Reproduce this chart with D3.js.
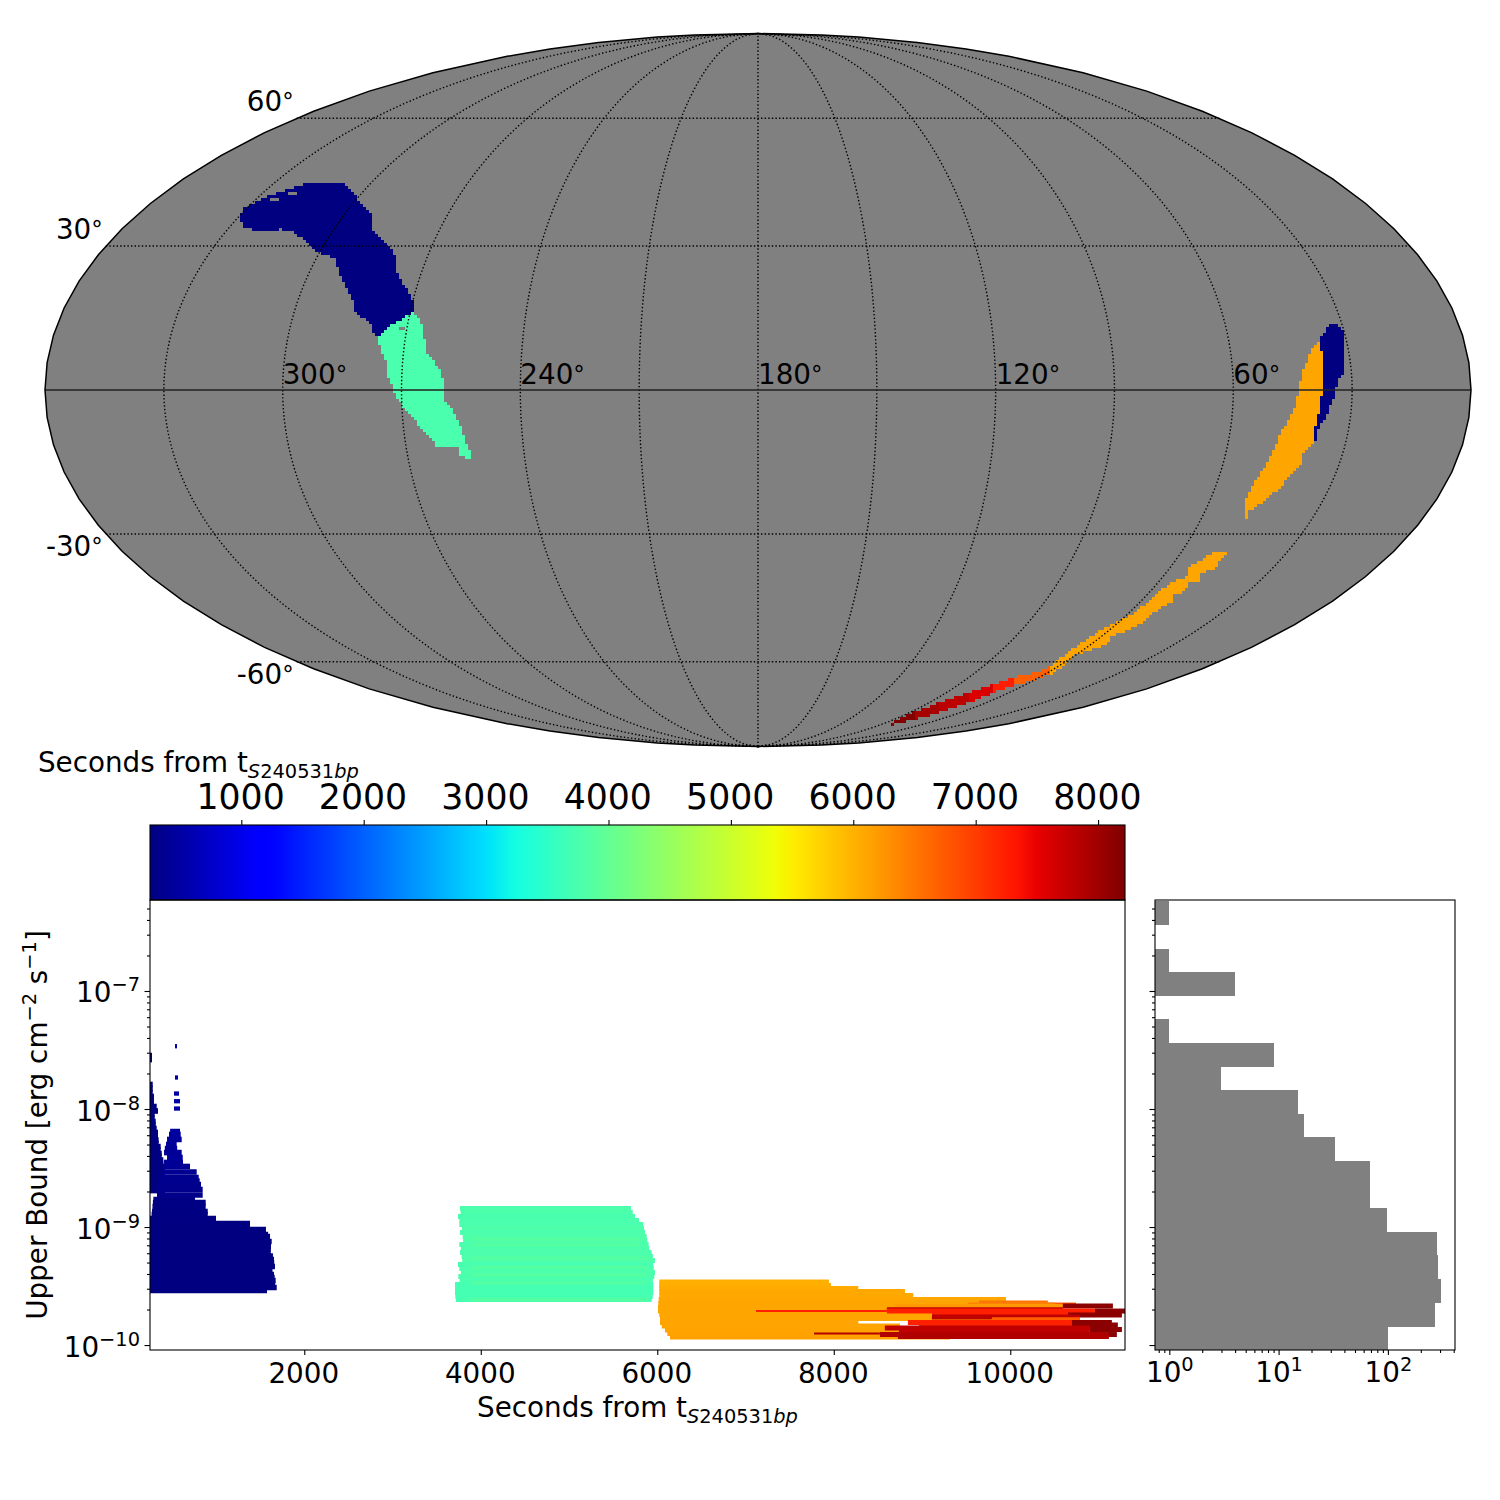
<!DOCTYPE html>
<html>
<head>
<meta charset="utf-8">
<script src="https://d3js.org/d3.v7.min.js"></script>
<style>
  html, body { margin: 0; background: #fff; }
  text { font-family: "DejaVu Sans", sans-serif; fill: #000; }
</style>
</head>
<body>
<svg id="chart" width="1500" height="1500"></svg>
<script>
// sky regions, [RA, Dec] outlines in degrees
var northBlueSky = [[328.7,35.69],[330.9,37.91],[329.7,39.5],[327.1,41.31],[325,41.99],[320.7,43.84],[308.3,43.84],[302.6,41.76],[297.9,39.5],[292.9,37.47],[288.9,33.48],[284.3,31.3],[280,29.13],[276.9,24.86],[273.9,22.11],[269.8,18.13],[269.4,16.05],[272.1,14.39],[275,12.73],[277.6,10.67],[279.6,13.76],[284.1,15.84],[285.8,18.54],[291.2,23.38],[294.9,27.42],[300.4,28.7],[306.5,31.3],[310.8,33.05],[315.1,33.7],[319.3,33.05],[325.9,33.92]];
var mintSky = [[269.4,16.05],[266.9,14.39],[265.6,11.7],[263.9,7.58],[260.8,4.5],[258.9,1.43],[259.7,-1.43],[257.7,-3.48],[255.5,-7.58],[254.7,-10.67],[253.6,-13.35],[253.7,-13.97],[256.5,-13.76],[256.6,-11.91],[262,-11.7],[265.7,-7.58],[269.1,-4.09],[271.5,-1.02],[273.3,2.46],[274.4,6.15],[277.1,10.26],[275,12.73],[272.1,14.39]];
var eastBlueSky = [[31.5,13.83],[30.2,11.7],[31.6,7.58],[31.7,4.09],[33.7,1.43],[34.6,-1.64],[36.3,-5.53],[37.6,-8.2],[37.5,-10.26],[38.5,-10.4],[38.6,-6.76],[37.8,-3.48],[38,0],[37,5.53],[37,10.26],[33.9,12.94]];
var eastOrangeSky = [[37.3,10.05],[36.7,7.58],[37.2,1.43],[38,-3.48],[38.7,-8.82],[38.4,-10.88],[40.1,-12.94],[39.5,-15],[41.2,-17.08],[42.9,-20],[45.5,-23.17],[48.5,-25.29],[47.2,-27],[48.3,-27],[50.6,-22.74],[50.1,-18.54],[48.2,-13.76],[47.1,-8.82],[44.1,-3.48],[43.5,0],[42.1,4.09],[39,8.82]];
var stripOrangeSky = [[47.1,-33.48],[46.9,-36.8],[46.8,-37.91],[49.8,-38.59],[47.9,-40.17],[51,-40.85],[49.1,-42.84],[51.7,-43.6],[49.5,-45.17],[51.6,-46.64],[52.1,-49],[52.4,-51.14],[56.4,-53.63],[54,-54.91],[57.6,-57.4],[60.8,-58.26],[58.4,-60.36],[57.6,-63.32],[63.2,-61.15],[64.5,-56.44],[63.2,-52.37],[60.5,-49.9],[58.7,-48.3],[57.3,-45.54],[57.3,-42.44],[55.5,-40.56],[52.7,-39.43],[54.5,-37.47],[53.4,-36.05],[50.6,-34.14]];
var stripASky = [[63.2,-61.15],[57.6,-63.32],[60,-65],[64.8,-66.4],[71,-64.16],[65.5,-63.04]];
var stripBSky = [[71,-64.16],[64.8,-66.4],[67.2,-68.64],[74.6,-66.09]];
var stripCSky = [[74.6,-66.09],[67.2,-68.64],[68.8,-71.81],[79.3,-68.73]];
var stripDSky = [[79.3,-68.73],[68.8,-71.81],[72.1,-75.03],[84.7,-71.81]];
var stripESky = [[84.7,-71.81],[72.1,-75.03],[76.1,-77.14],[88,-74.67]];
var stripFSky = [[88,-74.67],[76.1,-77.14],[81.7,-79.3],[85.9,-78.6]];
var skyOutlines = [northBlueSky, mintSky, eastBlueSky, eastOrangeSky, stripOrangeSky, stripASky, stripBSky, stripCSky, stripDSky, stripESky, stripFSky];
var skyTimes = [254, 3760, 254, 6110, 6110, 6700, 7250, 7600, 7800, 7950, 8200];
// little unfilled notches inside the regions
var skyHoles = [
    [[272.65,12.3],[270.3,12.3],[270.3,13.1],[271.6,13.1]],
    [[325.6,39.96],[323.1,39.96],[323.1,40.6],[325.6,40.6]],
    [[322.6,41.3],[319.8,41.3],[319.8,42.2],[322.6,42.2]]
];

var raGrid = [30, 60, 90, 120, 150, 180, 210, 240, 270, 300, 330];
var raLabels = [60, 120, 180, 240, 300];
var decGrid = [-60, -30, 30, 60];

// upper limits vs time: window start, window end (s), log10 of the bound
var blueStart = [252,252,252,252,252,252,252,252,252,252,252,252,252,252,252,252,252,252,252,252,252,252,252,252,252,252,252,252,252,252,252,252,252,252,252,252,252,252,252,252,252,252,252,252,252,252,252,252,252,252,252,252, 270,275,280,285,290,331,331,340,350,360,380,400,411,445,411,420,433,445,467,480];
var blueEnd = [1578,1688,1670,1676,1665,1657,1640,1668,1660,1657,1645,1620,1620,1623,1631,1590,1612,1566,1385,1385,1000,275,275,283,283,283,297,297,297,328,343,305,305,317,317,328,343,343,350,350,373,373,385,385,403,403,422,422,422,422,422,422, 906,906,883,883,762,849,849,830,815,804,781,705,626,623,611,560,554,611,600,592];
var blueLogUb = [-9.538,-9.513,-9.479,-9.453,-9.428,-9.403,-9.369,-9.335,-9.305,-9.275,-9.246,-9.216,-9.191,-9.165,-9.123,-9.064,-9.081,-9.021,-8.992,-8.97,-8.928,-7.547,-7.581,-7.792,-7.826,-7.86,-7.894,-7.928,-7.953,-7.979,-8.017,-8.047,-8.076,-8.106,-8.136,-8.165,-8.199,-8.233,-8.263,-8.292,-8.318,-8.347,-8.377,-8.403,-8.432,-8.462,-8.487,-8.53,-8.572,-8.614,-8.657,-8.691, -8.894,-8.869,-8.826,-8.792,-8.767,-8.729,-8.682,-8.64,-8.61,-8.581,-8.534,-8.487,-8.453,-8.411,-8.369,-8.335,-8.301,-8.258,-8.216,-8.191];
// the few isolated bright bars above the blue block
var sparseStart = [524,524,524,535,535];
var sparseEnd = [592,592,581,569,558];
var sparseLogUb = [-7.996,-7.934,-7.869,-7.733,-7.468];

var mintStart = [3765,3772,3742,3757,3757,3787,3765,3795,3800,3757,3775,3765,3783,3790,3742,3757,3775,3746,3760,3708,3708,3708,3712,3719];
var mintEnd = [5702,5721,5748,5793,5842,5850,5861,5880,5887,5902,5910,5936,5950,5974,5955,5960,5974,5967,5950,5955,5955,5955,5948,5936];
var mintLogUb = [-8.843,-8.877,-8.911,-8.945,-8.979,-9.013,-9.047,-9.081,-9.114,-9.148,-9.182,-9.216,-9.25,-9.284,-9.318,-9.352,-9.386,-9.419,-9.453,-9.487,-9.521,-9.555,-9.589,-9.614];
// slightly greener rows inside the mint block
var mintInnerStart = [3890,3890,3900,3900,3900,3900,3880];
var mintInnerEnd = [5800,5800,5900,5880,5880,5860,5880];
var mintInnerLogUb = [-9.106,-9.148,-9.263,-9.343,-9.407,-9.475,-9.614];
var mintInnerColourT = [3870,3870,3870,3870,3870,3870,3870];

var earlyRedStart = [7118, 7775];
var earlyRedEnd = [8602, 8523];
var earlyRedLogUb = [-9.714, -9.903];
var earlyRedColourT = [7235, 7885];

var orangeStart = [6023,6023,6023,6023,6023,6016,6012,6008,6008,6023,6031,6031,6050,6087,6114,6144];
var orangeEnd = [7945,7968,8278,8807,8901,9951,9645,9109,7118,9109,9789,8278,8750,8750,7775,9317];
var orangeLogUb = [-9.466,-9.496,-9.521,-9.547,-9.581,-9.614,-9.648,-9.682,-9.712,-9.742,-9.775,-9.809,-9.839,-9.873,-9.903,-9.932];
var orangeColourT = [6030,6030,6060,6080,6090,6100,6110,6110,6110,6110,6110,6120,6120,6130,6140,6140];

var lateStart = [9645,10426,9520,8693,10596,8602,8602,10959,9112,10653,9112,9792,8840,10698,8965,10698,8579,10902,8738,8523,11095,8727];
var lateEnd = [10426,10744,10505,10596,11163,10596,10959,11300,10653,11265,10789,10789,10698,11151,10698,11219,10902,11265,10902,11095,11208,11118];
var lateLogUb = [-9.644,-9.661,-9.661,-9.674,-9.669,-9.701,-9.712,-9.712,-9.737,-9.746,-9.763,-9.786,-9.809,-9.809,-9.831,-9.831,-9.856,-9.869,-9.881,-9.911,-9.911,-9.928];
var lateColourT = [6520,6750,6400,6200,8140,7783,7235,8140,7235,8140,7783,6700,7235,8140,7235,8140,7783,8140,7783,7885,8140,7885];

// histogram, bins from the bottom up
var histLogEdges = [-10.04,-9.84,-9.64,-9.44,-9.24,-9.04,-8.84,-8.64,-8.44,-8.24,-8.04,-7.84,-7.64,-7.44,-7.24,-7.04,-6.84,-6.64,-6.44,-6.24];
var histCounts = [100,270,306,287,281,98,68,68,33,17,15,3,9,1,0,4,1,0,1];

var colourTicks = [1000, 2000, 3000, 4000, 5000, 6000, 7000, 8000];
var timeTicks = [2000, 4000, 6000, 8000, 10000];
var ubMajorExp = [-10, -9, -8, -7];
var histMajorExp = [0, 1, 2];

var svg = d3.select("#chart");
var grey = "#808080";

// jet colormap
var jetR = d3.scaleLinear().domain([0, 0.35, 0.66, 0.89, 1]).range([0, 0, 1, 1, 0.5]).clamp(true);
var jetG = d3.scaleLinear().domain([0, 0.125, 0.375, 0.64, 0.91, 1]).range([0, 0, 1, 1, 0, 0]).clamp(true);
var jetB = d3.scaleLinear().domain([0, 0.11, 0.34, 0.65, 1]).range([0.5, 1, 1, 0, 0]).clamp(true);
var colourNorm = d3.scaleLinear().domain([254, 8220]).range([0, 1]).clamp(true);
function jet(t) {
    var v = colourNorm(t);
    return d3.rgb(jetR(v) * 255, jetG(v) * 255, jetB(v) * 255).formatHex();
}

// ---- Mollweide map ----
function mollweideRaw(lambda, phi) {
    var target = Math.PI * Math.sin(phi), theta = phi;
    if (Math.abs(phi) > 1.5707) theta = phi;
    else for (var i = 0; i < 30; i++) {
        var delta = (2 * theta + Math.sin(2 * theta) - target) / (2 + 2 * Math.cos(2 * theta));
        theta -= delta;
        if (Math.abs(delta) < 1e-8) break;
    }
    return [2 * Math.SQRT2 / Math.PI * lambda * Math.cos(theta), Math.SQRT2 * Math.sin(theta)];
}
var projection = d3.geoProjection(mollweideRaw)
    .scale(713 / (2 * Math.SQRT2))
    .translate([758, 390])
    .rotate([-180, 0])
    .reflectX(true);
var geoPath = d3.geoPath(projection);

var map = svg.append("g");
map.append("path").datum({type: "Sphere"}).attr("d", geoPath).attr("fill", grey);

// healpix-like blocky fill: sample each outline on a coarse screen grid
var cellSize = 3;
function fillCells(outline, colour) {
    var poly = outline.map(function(p) { return projection(p); });
    var xr = d3.extent(poly, function(p) { return p[0]; });
    var yr = d3.extent(poly, function(p) { return p[1]; });
    var cells = [];
    for (var x = Math.floor(xr[0] / cellSize) * cellSize; x <= xr[1]; x += cellSize) {
        for (var y = Math.floor(yr[0] / cellSize) * cellSize; y <= yr[1]; y += cellSize) {
            if (d3.polygonContains(poly, [x + cellSize / 2, y + cellSize / 2])) cells.push("M" + x + "," + y + "h" + cellSize + "v" + cellSize + "h" + (-cellSize) + "z");
        }
    }
    map.append("path")
        .attr("d", cells.join(""))
        .attr("fill", colour)
        .attr("shape-rendering", "crispEdges");
}
skyOutlines.forEach(function(outline, i) { fillCells(outline, jet(skyTimes[i])); });
skyHoles.forEach(function(outline) { fillCells(outline, grey); });

raGrid.forEach(function(ra) {
    var pts = d3.range(-90, 90.1, 2).map(function(dec) { return [ra, dec]; });
    map.append("path").datum({type: "LineString", coordinates: pts}).attr("d", geoPath)
        .attr("fill", "none").attr("stroke", "#000").attr("stroke-width", 1.4).attr("stroke-dasharray", "1.4,2.2");
});
decGrid.forEach(function(dec) {
    var left = projection([359.99, dec]), right = projection([0.01, dec]);
    map.append("line").attr("x1", left[0]).attr("x2", right[0]).attr("y1", left[1]).attr("y2", left[1])
        .attr("stroke", "#000").attr("stroke-width", 1.4).attr("stroke-dasharray", "1.4,2.2");
});
var eqL = projection([359.99, 0]), eqR = projection([0.01, 0]);
map.append("line").attr("x1", eqL[0]).attr("x2", eqR[0]).attr("y1", eqL[1]).attr("y2", eqL[1])
    .attr("stroke", "#222").attr("stroke-width", 1.7);
map.append("path").datum({type: "Sphere"}).attr("d", geoPath).attr("fill", "none").attr("stroke", "#000").attr("stroke-width", 1.5);

function degreeLabel(sel, v) {
    sel.append("tspan").text(v);
    sel.append("tspan").attr("font-size", 23).attr("dy", -2).text("\u00b0");
}
raLabels.forEach(function(ra) {
    var p = projection([ra, 0]);
    map.append("text").attr("x", p[0]).attr("y", p[1] - 6).attr("font-size", 27.78).call(degreeLabel, ra);
});
decGrid.forEach(function(dec) {
    var p = projection([359.99, dec]);
    map.append("text").attr("x", p[0] - 3).attr("y", p[1] + (dec > 0 ? -7 : 22))
        .attr("text-anchor", "end").attr("font-size", 27.78).call(degreeLabel, dec);
});

// ---- colorbar ----
var cbX = d3.scaleLinear().domain([254, 8220]).range([150, 1125]);
var grad = svg.append("defs").append("linearGradient").attr("id", "jetGrad");
d3.range(0, 1.0001, 0.01).forEach(function(v) {
    grad.append("stop").attr("offset", v).attr("stop-color", jet(colourNorm.invert(v)));
});
svg.append("rect").attr("x", 150).attr("y", 825).attr("width", 975).attr("height", 75).attr("fill", "url(#jetGrad)");
var cbAxis = svg.append("g").attr("transform", "translate(0,825)")
    .call(d3.axisTop(cbX).tickValues(colourTicks).tickSize(5).tickSizeOuter(0).tickFormat(d3.format("d")));
cbAxis.select(".domain").remove();
cbAxis.selectAll("line").attr("stroke-width", 1.1);
cbAxis.selectAll("text").attr("font-family", null).attr("font-size", 34.7).attr("x", -1.2).attr("y", -16).attr("dy", 0);
svg.append("rect").attr("x", 150).attr("y", 825).attr("width", 975).attr("height", 75)
    .attr("fill", "none").attr("stroke", "#000").attr("stroke-width", 1.1);

function secondsLabel(sel) {
    sel.append("tspan").text("Seconds from t");
    sel.append("tspan").attr("font-size", 19.4).attr("dy", 6).attr("font-style", "italic").text("S");
    sel.append("tspan").attr("font-size", 19.4).text("240531");
    sel.append("tspan").attr("font-size", 19.4).attr("font-style", "italic").text("bp");
}
svg.append("text").attr("x", 38).attr("y", 772).attr("font-size", 27.78).call(secondsLabel);

// ---- main panel ----
var x = d3.scaleLinear().domain([252, 11300]).range([150, 1125]);
var y = d3.scaleLog().domain([Math.pow(10, -10.042), Math.pow(10, -6.229)]).range([1350, 900]);

function drawBars(starts, ends, logs, colours, width) {
    svg.append("g").selectAll("line")
        .data(starts)
        .enter()
        .append("line")
        .attr("x1", function(d) { return x(d); })
        .attr("x2", function(d, i) { return x(ends[i]); })
        .attr("y1", function(d, i) { return y(Math.pow(10, logs[i])); })
        .attr("y2", function(d, i) { return y(Math.pow(10, logs[i])); })
        .attr("stroke", function(d, i) { return jet(colours[i]); })
        .attr("stroke-width", width);
}
drawBars(blueStart, blueEnd, blueLogUb, blueStart, 5.6);
drawBars(sparseStart, sparseEnd, sparseLogUb, sparseStart, 4.3);
drawBars(mintStart, mintEnd, mintLogUb, mintStart, 5);
drawBars(mintInnerStart, mintInnerEnd, mintInnerLogUb, mintInnerColourT, 3);
drawBars(earlyRedStart, earlyRedEnd, earlyRedLogUb, earlyRedColourT, 5);
drawBars(orangeStart, orangeEnd, orangeLogUb, orangeColourT, 5);
drawBars(lateStart, lateEnd, lateLogUb, lateColourT, 5);

function powerLabel(sel, exps) {
    sel.text(null).each(function(d, i) {
        var t = d3.select(this);
        t.append("tspan").text("10");
        t.append("tspan").attr("font-size", 19.4).attr("dy", -11)
            .text(String(exps[i]).replace("-", "\u2212"));
    });
}
function minorTicks(scale) {
    return scale.ticks().filter(function(v) { return Math.abs(Math.log10(v) - Math.round(Math.log10(v))) > 1e-6; });
}
function styleAxis(g) {
    g.select(".domain").remove();
    g.selectAll("line").attr("stroke-width", 1.1);
}

var xAxis = svg.append("g").attr("transform", "translate(0,1350)")
    .call(d3.axisBottom(x).tickValues(timeTicks).tickSize(5).tickSizeOuter(0).tickFormat(d3.format("d")));
xAxis.call(styleAxis);
xAxis.selectAll("text").attr("font-size", 27.78).attr("x", -1).attr("y", 33).attr("dy", 0);

svg.append("g").attr("transform", "translate(150,0)")
    .call(d3.axisLeft(y).tickValues(minorTicks(y)).tickSize(3).tickSizeOuter(0).tickFormat(""))
    .call(styleAxis);
var yAxis = svg.append("g").attr("transform", "translate(150,0)")
    .call(d3.axisLeft(y).tickValues(ubMajorExp.map(function(e) { return Math.pow(10, e); })).tickSize(5.5).tickSizeOuter(0));
yAxis.call(styleAxis);
yAxis.selectAll("text").attr("font-size", 27.78).attr("x", -10).attr("dy", 11).call(powerLabel, ubMajorExp);

svg.append("rect").attr("x", 150).attr("y", 900).attr("width", 975).attr("height", 450)
    .attr("fill", "none").attr("stroke", "#000").attr("stroke-width", 1.1);

svg.append("text").attr("x", 637.5).attr("y", 1417).attr("text-anchor", "middle").attr("font-size", 27.78).call(secondsLabel);

var yLabel = svg.append("text").attr("transform", "translate(47,1125) rotate(-90)")
    .attr("text-anchor", "middle").attr("font-size", 27.78);
yLabel.append("tspan").text("Upper Bound [erg cm");
yLabel.append("tspan").attr("font-size", 19.4).attr("dy", -11).text("\u22122");
yLabel.append("tspan").attr("dy", 11).text(" s");
yLabel.append("tspan").attr("font-size", 19.4).attr("dy", -11).text("\u22121");
yLabel.append("tspan").attr("dy", 11).text("]");

// ---- histogram panel ----
var xHist = d3.scaleLog().domain([Math.pow(10, -0.131), Math.pow(10, 2.614)]).range([1155, 1455]);
svg.append("g").attr("shape-rendering", "crispEdges").selectAll("rect")
    .data(histCounts)
    .enter()
    .append("rect")
    .attr("x", 1155)
    .attr("width", function(d) { return d > 0 ? xHist(d) - 1155 : 0; })
    .attr("y", function(d, i) { return Math.max(900, y(Math.pow(10, histLogEdges[i + 1]))); })
    .attr("height", function(d, i) { return y(Math.pow(10, histLogEdges[i])) - Math.max(900, y(Math.pow(10, histLogEdges[i + 1]))) + 0.5; })
    .attr("fill", grey);

svg.append("g").attr("transform", "translate(1155,0)")
    .call(d3.axisLeft(y).tickValues(minorTicks(y)).tickSize(3).tickSizeOuter(0).tickFormat(""))
    .call(styleAxis);
svg.append("g").attr("transform", "translate(1155,0)")
    .call(d3.axisLeft(y).tickValues(ubMajorExp.map(function(e) { return Math.pow(10, e); })).tickSize(5.5).tickSizeOuter(0).tickFormat(""))
    .call(styleAxis);
svg.append("g").attr("transform", "translate(0,1350)")
    .call(d3.axisBottom(xHist).tickValues(minorTicks(xHist)).tickSize(3).tickSizeOuter(0).tickFormat(""))
    .call(styleAxis);
var xHistAxis = svg.append("g").attr("transform", "translate(0,1350)")
    .call(d3.axisBottom(xHist).tickValues(histMajorExp.map(function(e) { return Math.pow(10, e); })).tickSize(5).tickSizeOuter(0));
xHistAxis.call(styleAxis);
xHistAxis.selectAll("text").attr("font-size", 27.78).attr("y", 32).attr("dy", 0).call(powerLabel, histMajorExp);
svg.append("rect").attr("x", 1155).attr("y", 900).attr("width", 300).attr("height", 450)
    .attr("fill", "none").attr("stroke", "#000").attr("stroke-width", 1.1);
</script>
</body>
</html>
